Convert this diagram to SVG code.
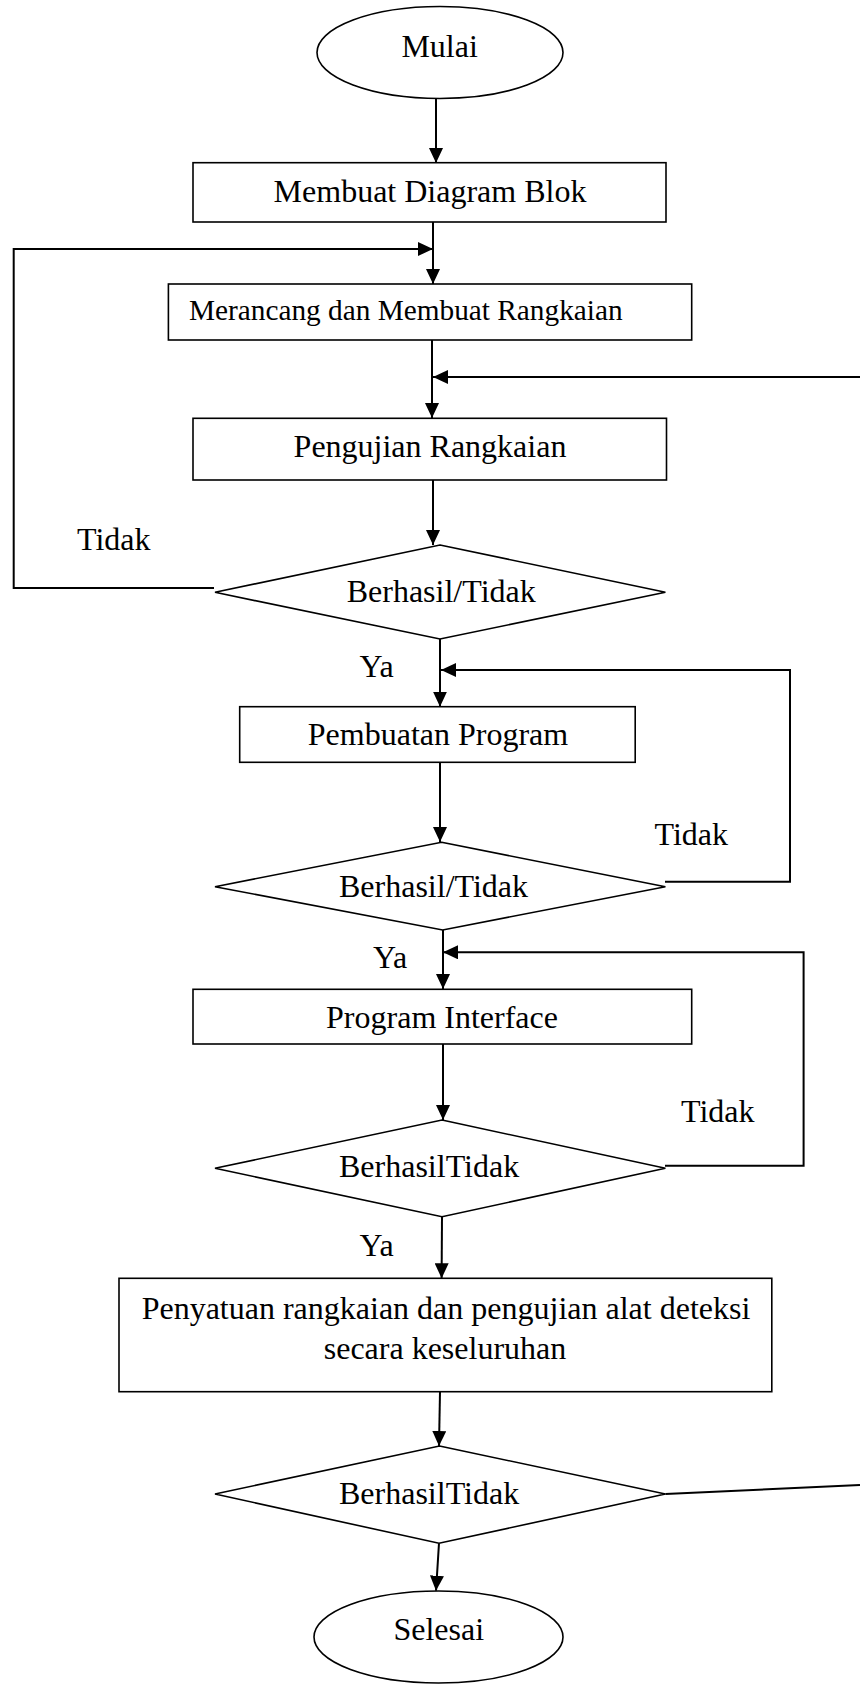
<svg xmlns="http://www.w3.org/2000/svg" width="860" height="1684" viewBox="0 0 860 1684">
<defs>
<marker id="arr" markerUnits="userSpaceOnUse" markerWidth="15" markerHeight="14" refX="15" refY="7" orient="auto">
<path d="M0,0 L15,7 L0,14 z" fill="#000"/>
</marker>
<style>
.s{fill:#fff;stroke:#000;stroke-width:1.6}
.c{fill:none;stroke:#000;stroke-width:2}
.a{marker-end:url(#arr)}
text{font-family:"Liberation Serif","Times New Roman",serif;font-size:32px;fill:#000}
.m{text-anchor:middle}
.sm{font-size:29.3px}
</style>
</defs>
<rect width="860" height="1684" fill="#fff"/>
<g id="connectors">
<path class="c a" d="M436,98.5 V163"/>
<path class="c a" d="M433,222 V284"/>
<path class="c a" d="M214,588 H13.7 V249 H433"/>
<path class="c a" d="M432,340 V418"/>
<path class="c a" d="M860,377 H433"/>
<path class="c a" d="M433,480 V545"/>
<path class="c a" d="M440,639 V706.7"/>
<path class="c a" d="M665,881.7 H790 V670 H441"/>
<path class="c a" d="M440,762.3 V842"/>
<path class="c a" d="M443,930 V989"/>
<path class="c a" d="M665,1165.7 H803.6 V952.3 H443"/>
<path class="c a" d="M443,1044 V1120"/>
<path class="c a" d="M442,1216.7 L441.6,1278.3"/>
<path class="c a" d="M440,1391.7 L439,1446"/>
<path class="c" d="M665.4,1494 L860,1485"/>
<path class="c a" d="M439,1543.3 L436,1590.7"/>
</g>
<g id="n-mulai"><ellipse class="s" cx="440" cy="52.5" rx="123" ry="46"/><text class="m" x="439.6" y="57">Mulai</text></g>
<g id="n-diagram"><rect class="s" x="193" y="162.7" width="473" height="59.3"/><text class="m" x="430" y="201.7">Membuat Diagram Blok</text></g>
<g id="n-merancang"><rect class="s" x="168.4" y="284" width="523.3" height="56"/><text class="sm" x="189" y="320">Merancang dan Membuat Rangkaian</text></g>
<g id="n-pengujian"><rect class="s" x="193" y="418.3" width="473.5" height="61.7"/><text class="m" x="430" y="457.3">Pengujian Rangkaian</text></g>
<g id="n-dec1"><polygon class="s" points="440,545 665.4,592.3 440,639 215,592.3"/><text x="346.7" y="601.7">Berhasil/Tidak</text></g>
<g id="n-program"><rect class="s" x="239.7" y="706.7" width="395.5" height="55.6"/><text class="m" x="438" y="745">Pembuatan Program</text></g>
<g id="n-dec2"><polygon class="s" points="441.6,842.3 665.4,886.7 442.7,930 215,886.7"/><text x="339" y="897.3">Berhasil/Tidak</text></g>
<g id="n-interface"><rect class="s" x="193" y="989.3" width="498.7" height="54.7"/><text class="m" x="442" y="1028.3">Program Interface</text></g>
<g id="n-dec3"><polygon class="s" points="442,1120 665.4,1168.3 442,1216.7 215,1168.3"/><text x="339" y="1177.3">BerhasilTidak</text></g>
<g id="n-penyatuan"><rect class="s" x="119" y="1278.3" width="652.8" height="113.4"/><text class="m" x="446" y="1319">Penyatuan rangkaian dan pengujian alat deteksi</text><text class="m" x="445" y="1358.5">secara keseluruhan</text></g>
<g id="n-dec4"><polygon class="s" points="439.5,1446 665.4,1494 439,1543.3 215,1494"/><text x="339" y="1504">BerhasilTidak</text></g>
<g id="n-selesai"><ellipse class="s" cx="438.5" cy="1637" rx="124.5" ry="46"/><text class="m" x="438.8" y="1640">Selesai</text></g>
<g id="labels">
<text x="77" y="550">Tidak</text>
<text x="359.5" y="677">Ya</text>
<text x="654.5" y="844.5">Tidak</text>
<text x="373" y="968">Ya</text>
<text x="681" y="1122">Tidak</text>
<text x="359.5" y="1256">Ya</text>
</g>
</svg>
